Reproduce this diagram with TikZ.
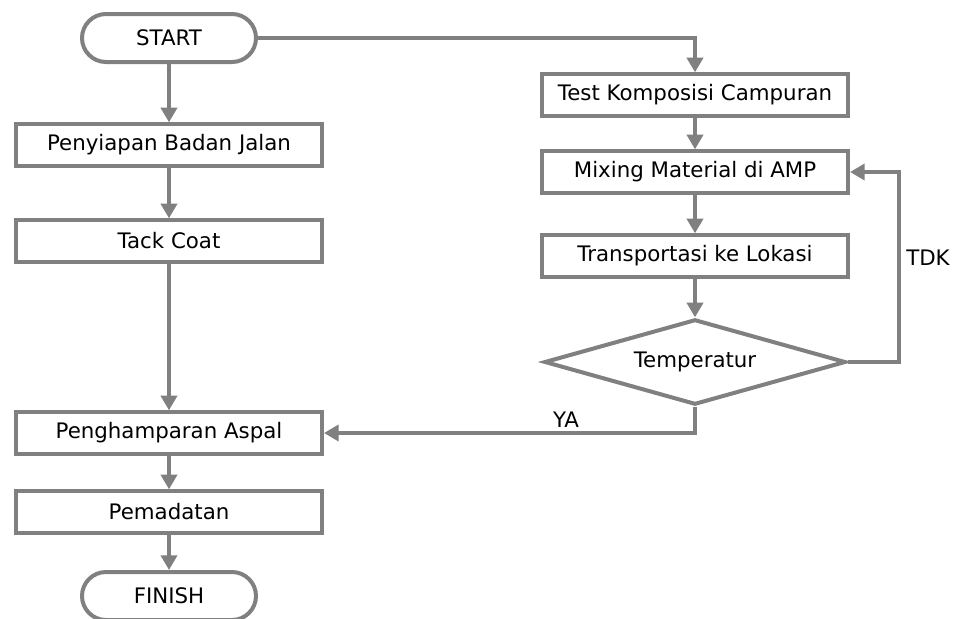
\documentclass[tikz,border=0pt]{standalone}
\usepackage{fontspec}
\setmainfont{DejaVu Sans}
\usetikzlibrary{shapes,arrows.meta}

\begin{document}
\begin{tikzpicture}[x=0.75pt,y=-0.75pt,line width=3pt,draw=black!50,
                   font=\fontsize{16}{19}\selectfont,
                   box/.style={draw,rectangle,minimum width=229.5pt,minimum height=31pt,inner sep=0pt},
                   pill/.style={draw,rectangle,rounded corners=18pt,minimum width=130.5pt,minimum height=36pt,inner sep=0pt},
                   cek/.style={draw,diamond,aspect=3.6,minimum width=226pt,minimum height=64pt,inner sep=0pt},
                   arr/.style={-{Triangle[length=11pt,width=12pt]}}]
\useasboundingbox (0,0) rectangle (957,618);
\node[pill] (start) at (169,38) {START};
\node[box] (siap) at (169,145) {Penyiapan Badan Jalan};
\node[box] (tack) at (169,241) {Tack Coat};
\node[box] (hampar) at (169,433) {Penghamparan Aspal};
\node[box] (padat) at (169,512) {Pemadatan};
\node[pill] (finish) at (169,596) {FINISH};
\node[box] (test) at (695,95) {Test Komposisi Campuran};
\node[box] (mix) at (695,172) {Mixing Material di AMP};
\node[box] (trans) at (695,256) {Transportasi ke Lokasi};
\node[cek] (temp) at (695,362) {Temperatur};
\node (tdk) at (928,258) {TDK};
\node (ya) at (566,420) {YA};
\draw[arr] (start) -- (siap);
\draw[arr] (siap) -- (tack);
\draw[arr] (tack) -- (hampar);
\draw[arr] (hampar) -- (padat);
\draw[arr] (padat) -- (finish);
\draw[arr] (start.east) -| (test.north);
\draw[arr] (test) -- (mix);
\draw[arr] (mix) -- (trans);
\draw[arr] (trans) -- (temp);
\draw[arr] (temp.east) -- ++(51,0) |- (mix.east);
\draw[arr] (temp.south) |- (hampar.east);
\end{tikzpicture}
\end{document}
